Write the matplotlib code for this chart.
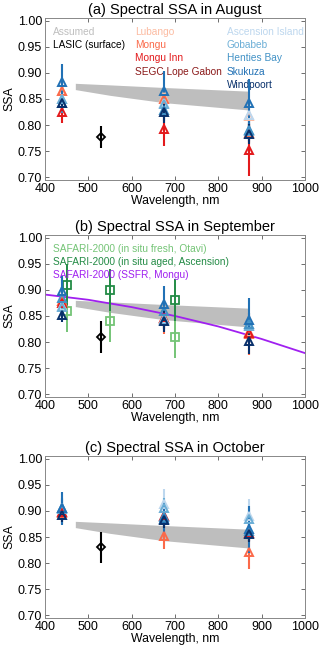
import numpy as np
import matplotlib
matplotlib.use("Agg")
import matplotlib.pyplot as plt

plt.rcParams['font.family'] = ['Liberation Sans', 'DejaVu Sans']

# AERONET wavelengths
wl = [440, 675, 870]

sites = ['Lubango', 'Mongu', 'Mongu Inn', 'SEGC Lope Gabon',
         'Ascension Island', 'Gobabeb', 'Henties Bay', 'Skukuza', 'Windpoort']
site_colors = ['#fcbba1', '#fb6a4a', '#e31a1c', '#8b1a1a',
               '#bdd7ee', '#6baed6', '#4292c6', '#2171b5', '#08306b']

nan = np.nan
# SSA per site at 440/675/870, and errors
aug_ssa = {
    'Lubango': [0.865, 0.853, 0.818], 'Mongu': [0.865, 0.850, 0.785],
    'Mongu Inn': [0.825, 0.793, 0.752], 'SEGC Lope Gabon': [nan, nan, nan],
    'Ascension Island': [0.850, 0.842, 0.820], 'Gobabeb': [0.850, 0.840, 0.788],
    'Henties Bay': [0.843, 0.828, 0.790], 'Skukuza': [0.883, 0.866, 0.842],
    'Windpoort': [0.842, 0.825, 0.783]}
aug_err = {
    'Lubango': [0.02, 0.02, 0.02], 'Mongu': [0.02, 0.02, 0.02],
    'Mongu Inn': [0.02, 0.032, 0.05], 'SEGC Lope Gabon': [0, 0, 0],
    'Ascension Island': [0.02, 0.02, 0.02], 'Gobabeb': [0.02, 0.02, 0.02],
    'Henties Bay': [0.02, 0.02, 0.02], 'Skukuza': [0.033, 0.037, 0.047],
    'Windpoort': [0.015, 0.02, 0.02]}

sep_ssa = {
    'Lubango': [0.878, 0.847, 0.820], 'Mongu': [0.878, 0.845, 0.815],
    'Mongu Inn': [0.875, 0.846, 0.818], 'SEGC Lope Gabon': [nan, nan, nan],
    'Ascension Island': [0.870, 0.845, 0.832], 'Gobabeb': [0.868, 0.843, 0.830],
    'Henties Bay': [0.885, 0.860, 0.835], 'Skukuza': [0.897, 0.873, 0.842],
    'Windpoort': [0.851, 0.840, 0.802]}
sep_err = {
    'Lubango': [0.02, 0.02, 0.02], 'Mongu': [0.02, 0.03, 0.04],
    'Mongu Inn': [0.02, 0.02, 0.02], 'SEGC Lope Gabon': [0, 0, 0],
    'Ascension Island': [0.02, 0.02, 0.02], 'Gobabeb': [0.02, 0.02, 0.02],
    'Henties Bay': [0.02, 0.02, 0.02], 'Skukuza': [0.03, 0.035, 0.042],
    'Windpoort': [0.012, 0.02, 0.025]}

oct_ssa = {
    'Lubango': [nan, nan, nan], 'Mongu': [0.895, 0.852, 0.821],
    'Mongu Inn': [0.897, 0.890, 0.858], 'SEGC Lope Gabon': [nan, nan, nan],
    'Ascension Island': [0.905, 0.914, 0.890], 'Gobabeb': [0.903, 0.905, 0.885],
    'Henties Bay': [0.905, 0.888, 0.862], 'Skukuza': [0.905, 0.885, 0.865],
    'Windpoort': [0.893, 0.883, 0.855]}
oct_err = {
    'Lubango': [0, 0, 0], 'Mongu': [0.02, 0.025, 0.033],
    'Mongu Inn': [0.015, 0.015, 0.015], 'SEGC Lope Gabon': [0, 0, 0],
    'Ascension Island': [0.03, 0.027, 0.033], 'Gobabeb': [0.02, 0.02, 0.02],
    'Henties Bay': [0.02, 0.02, 0.02], 'Skukuza': [0.032, 0.03, 0.045],
    'Windpoort': [0.015, 0.015, 0.015]}

# assumed SSA band
band_wl = [470, 550, 675, 870]
band_hi = [0.880, 0.877, 0.872, 0.865]
band_lo = [0.868, 0.857, 0.843, 0.829]

# LASIC surface
lasic_wl = 530
lasic_ssa = [0.778, 0.810, 0.830]
lasic_err = [0.021, 0.030, 0.030]

# SAFARI-2000
saf_fresh_wl = [450, 550, 700]
saf_fresh_ssa = [0.860, 0.840, 0.810]
saf_aged_wl = [450, 550, 700]
saf_aged_ssa = [0.910, 0.900, 0.880]
saf_err = 0.04
ssfr_wl = [400, 500, 600, 700, 800, 900, 1000]
ssfr_ssa = [0.891, 0.881, 0.867, 0.850, 0.830, 0.806, 0.779]

months = ['August', 'September', 'October']
letters = ['a', 'b', 'c']
ssa_all = [aug_ssa, sep_ssa, oct_ssa]
err_all = [aug_err, sep_err, oct_err]

fig = plt.figure(figsize=(3.2, 6.47), dpi=100)
bottoms = [0.7218, 0.3864, 0.0448]
fs_leg = 7.3

for k in range(3):
    ax = fig.add_axes([0.1406, bottoms[k], 0.8125, 0.2504])
    ax.fill_between(band_wl, band_lo, band_hi, color='#bebebe', lw=0, zorder=1)

    if k == 1:
        ax.plot(ssfr_wl, ssfr_ssa, color='#a020f0', lw=1.3, zorder=2)
        ax.errorbar(saf_fresh_wl, saf_fresh_ssa, yerr=saf_err, fmt='s', ms=5.5,
                    mfc='none', mec='#74c476', ecolor='#74c476', mew=1.3,
                    elinewidth=1.4, capsize=0, zorder=3)
        ax.errorbar(saf_aged_wl, saf_aged_ssa, yerr=saf_err, fmt='s', ms=5.5,
                    mfc='none', mec='#238b45', ecolor='#238b45', mew=1.3,
                    elinewidth=1.4, capsize=0, zorder=3)

    for s, c in zip(sites, site_colors):
        ax.errorbar(wl, ssa_all[k][s], yerr=err_all[k][s], fmt='^', ms=6,
                    mfc='none', mec=c, ecolor=c, mew=1.4, elinewidth=1.5,
                    capsize=0, zorder=4)

    ax.errorbar([lasic_wl], [lasic_ssa[k]], yerr=[lasic_err[k]], fmt='D', ms=3.8,
                mfc='none', mec='black', ecolor='black', mew=1.3,
                elinewidth=1.5, capsize=0, zorder=5)

    ax.set_xlim(400, 1000)
    ax.set_ylim(0.695, 1.005)
    ax.set_xticks([400, 500, 600, 700, 800, 900, 1000])
    ax.set_yticks([0.70, 0.75, 0.80, 0.85, 0.90, 0.95, 1.00])
    ax.set_yticklabels(['%.2f' % v for v in ax.get_yticks()])
    ax.tick_params(direction='in', top=True, right=True, labelsize=9,
                   length=3, width=0.6, colors='#555555', labelcolor='black',
                   pad=2)
    for sp in ax.spines.values():
        sp.set_color('#888888')
        sp.set_linewidth(0.7)
    ax.set_xlabel('Wavelength, nm', fontsize=8.8, labelpad=0)
    ax.set_ylabel('SSA', fontsize=8.8, labelpad=2)
    ax.set_title('(%s) Spectral SSA in %s' % (letters[k], months[k]),
                 fontsize=10.5, pad=3)

    if k == 0:
        ax.text(418, 0.979, 'Assumed', color='#bebebe', fontsize=fs_leg, va='center')
        ax.text(418, 0.954, 'LASIC (surface)', color='black', fontsize=fs_leg, va='center')
        for i, s in enumerate(sites[:4]):
            ax.text(607, 0.979 - 0.0255 * i, s, color=site_colors[i],
                    fontsize=fs_leg, va='center')
        for i, s in enumerate(sites[4:]):
            ax.text(820, 0.979 - 0.0255 * i, s, color=site_colors[4 + i],
                    fontsize=fs_leg, va='center')
    if k == 1:
        ax.text(418, 0.979, 'SAFARI-2000 (in situ fresh, Otavi)', color='#74c476',
                fontsize=fs_leg, va='center')
        ax.text(418, 0.954, 'SAFARI-2000 (in situ aged, Ascension)', color='#238b45',
                fontsize=fs_leg, va='center')
        ax.text(418, 0.928, 'SAFARI-2000 (SSFR, Mongu)', color='#a020f0',
                fontsize=fs_leg, va='center')

fig.savefig('out.png', dpi=100)
